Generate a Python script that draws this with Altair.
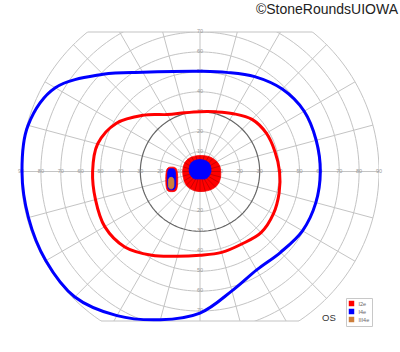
import altair as alt
import numpy as np
import pandas as pd

# ---------------- data ----------------
meridians = list(range(0, 360, 15))
# I4e isopter (blue) eccentricity in degrees at each meridian
i4e_ecc = [60.5, 60.5, 60.5, 58.5, 55.0, 51.5, 50.3, 52.0, 57.5, 69.0, 84.0, 89.5,
           89.5, 89.3, 89.5, 89.0, 83.5, 77.0, 71.0, 62.0, 57.0, 57.3, 59.5, 60.3]
# I2e isopter (red)
i2e_ecc = [40.0, 39.0, 38.5, 37.0, 33.5, 31.0, 30.0, 30.5, 33.0, 40.0, 48.5, 53.3,
           54.0, 54.4, 55.3, 53.5, 48.5, 44.0, 42.0, 42.0, 42.0, 43.4, 42.6, 41.2]
# central red (I2e) filled area
c_red_ecc = [10.4, 10.3, 9.8, 9.2, 8.7, 8.2, 8.0, 8.1, 8.4, 8.7, 8.8, 8.7,
             8.7, 8.8, 9.2, 9.7, 9.9, 10.0, 10.0, 10.2, 10.6, 11.0, 11.0, 10.7]
# central blue (I4e) filled area, every 45 degrees
c_blue_mer = [0, 45, 90, 135, 180, 225, 270, 315]
c_blue_ecc = [5.5, 6.2, 6.0, 6.2, 5.4, 4.8, 3.7, 4.8]
# blind spot areas (x, y in degrees)
bs_red_x = [-14.2, -11.8, -11.2, -11.8, -14.2, -16.6, -17.2, -16.6]
bs_red_y = [2.2, 1.2, -4.0, -9.1, -10.1, -9.1, -4.0, 1.2]
bs_blue_x = [-14.3, -12.6, -12.2, -12.6, -14.3, -16.0, -16.4, -16.0]
bs_blue_y = [1.4, 0.6, -4.0, -8.4, -9.2, -8.4, -4.0, 0.6]
bs_or_x = [-14.5, -13.3, -13.1, -13.3, -14.5, -15.7, -15.9, -15.7]
bs_or_y = [-2.9, -3.6, -5.8, -8.0, -8.7, -8.0, -5.8, -3.6]

iso_names = ["I2e", "I4e", "III4e"]
iso_colors = ["#ff0000", "#0000ff", "#cd7f3c"]

rings = [10, 20, 30, 40, 50, 60, 70, 80, 90]
h_labels = [10, 20, 30, 40, 50, 60, 70, 80, 90]
v_labels = [10, 20, 30, 40, 50, 60, 70]
top_limit = 70
bottom_limit = -75
outer = 90

XS = alt.Scale(domain=[-90, 90], nice=False, zero=False)
YS = alt.Scale(domain=[bottom_limit, top_limit], nice=False, zero=False)


def polar_df(mer, ecc, name="s"):
    return pd.DataFrame({"ang": mer, "ecc": ecc, "idx": range(len(mer)), "name": name})


def enc(ch):
    return ch.encode(
        x=alt.X("x:Q", scale=XS, axis=None),
        y=alt.Y("y:Q", scale=YS, axis=None),
        order=alt.Order("idx:Q"),
    )


def polar_chart(df):
    return alt.Chart(df).transform_calculate(
        x="datum.ecc * cos(datum.ang * PI / 180)",
        y="datum.ecc * sin(datum.ang * PI / 180)",
    )


# ---------------- grid ----------------
angs = np.arange(0, 361, 2)
circ_rows = []
for r in rings:
    for i, a in enumerate(angs):
        circ_rows.append({"r": r, "idx": i, "ang": float(a), "ecc": r,
                          "dark": "d" if r == 30 else "l"})
circ_df = pd.DataFrame(circ_rows)
circles_light = enc(polar_chart(circ_df[circ_df.dark == "l"]).mark_line(
    clip=True, color="#c4c4c4", strokeWidth=1)).encode(detail="r:N")
circle_dark = enc(polar_chart(circ_df[circ_df.dark == "d"]).mark_line(
    clip=True, color="#666666", strokeWidth=1.2))

spoke_rows = []
for a in meridians:
    spoke_rows.append({"sp": a, "ang": a, "ecc": 0, "idx": 0})
    spoke_rows.append({"sp": a, "ang": a, "ecc": outer, "idx": 1})
spokes = enc(polar_chart(pd.DataFrame(spoke_rows)).mark_line(
    clip=True, color="#c4c4c4", strokeWidth=1)).encode(detail="sp:N")

hw_top = float(np.sqrt(outer ** 2 - top_limit ** 2))
hw_bot = float(np.sqrt(outer ** 2 - bottom_limit ** 2))
bound_df = pd.DataFrame({
    "x": [-hw_top, hw_top, -hw_bot, hw_bot],
    "y": [top_limit, top_limit, bottom_limit, bottom_limit],
    "b": ["t", "t", "b", "b"], "idx": [0, 1, 0, 1]})
bounds = enc(alt.Chart(bound_df).mark_line(color="#c4c4c4", strokeWidth=1.2)).encode(detail="b:N")

lab_rows = []
for v in h_labels:
    lab_rows.append({"x": v, "y": 0, "t": str(v)})
    lab_rows.append({"x": -v, "y": 0, "t": str(v)})
for v in v_labels:
    lab_rows.append({"x": 0, "y": v, "t": str(v)})
    lab_rows.append({"x": 0, "y": -v, "t": str(v)})
labels = alt.Chart(pd.DataFrame(lab_rows)).mark_text(
    fontSize=5.5, color="#9a9a9a", font="Liberation Sans", baseline="middle", dy=-1
).encode(x=alt.X("x:Q", scale=XS, axis=None), y=alt.Y("y:Q", scale=YS, axis=None), text="t:N")

# ---------------- central filled areas ----------------
c_red = enc(polar_chart(polar_df(meridians, c_red_ecc)).mark_line(
    interpolate="cardinal-closed", fill="#ff0000", stroke="#ff0000", strokeWidth=0.8))
stripe_rows = []
for a, e in zip(meridians, c_red_ecc):
    stripe_rows.append({"sp": a, "ang": a, "ecc": 0, "idx": 0})
    stripe_rows.append({"sp": a, "ang": a, "ecc": e, "idx": 1})
stripes = enc(polar_chart(pd.DataFrame(stripe_rows)).mark_line(
    color="#b40000", strokeWidth=0.7)).encode(detail="sp:N")
c_blue = enc(polar_chart(polar_df(c_blue_mer, c_blue_ecc)).mark_line(
    interpolate="cardinal-closed", fill="#0000ff", stroke="#0000ff", strokeWidth=0.8))


def xy_shape(xs, ys, color):
    df = pd.DataFrame({"x": xs, "y": ys, "idx": range(len(xs))})
    return enc(alt.Chart(df).mark_line(
        interpolate="cardinal-closed", fill=color, stroke=color, strokeWidth=0.8))


bs_red = xy_shape(bs_red_x, bs_red_y, "#ff0000")
bs_blue = xy_shape(bs_blue_x, bs_blue_y, "#0000ff")
bs_or = xy_shape(bs_or_x, bs_or_y, "#cd7f3c")

# ---------------- isopters ----------------
iso_red = enc(polar_chart(polar_df(meridians, i2e_ecc)).mark_line(
    interpolate="cardinal-closed", color="#ff0000", strokeWidth=3))
iso_blue = enc(polar_chart(polar_df(meridians, i4e_ecc)).mark_line(
    interpolate="cardinal-closed", color="#0000ff", strokeWidth=3))

# ---------------- legend (symbols only, marks clipped away) ----------------
leg_df = pd.DataFrame({"iso": iso_names, "x": [500, 500, 500], "y": [500, 500, 500]})
legend_layer = alt.Chart(leg_df).mark_square(clip=True, size=10).encode(
    x=alt.X("x:Q", scale=XS, axis=None),
    y=alt.Y("y:Q", scale=YS, axis=None),
    color=alt.Color("iso:N", scale=alt.Scale(domain=iso_names, range=iso_colors),
                    legend=alt.Legend(title=None, orient="none", legendX=325, legendY=266,
                                      symbolType="square", symbolSize=30, symbolOpacity=1,
                                      symbolStrokeWidth=0,
                                      labelFontSize=5.5, labelColor="#666666",
                                      labelFont="Liberation Sans", labelOffset=4,
                                      padding=2.5, rowPadding=1, strokeColor="#c8c8c8",
                                      fillColor="white")),
)

# ---------------- annotations ----------------
copy_txt = alt.Chart(pd.DataFrame({"t": ["©StoneRoundsUIOWA"]})).mark_text(
    align="right", baseline="alphabetic", fontSize=14, font="Liberation Sans", color="#222222"
).encode(x=alt.value(377), y=alt.value(-18), text="t:N")
os_txt = alt.Chart(pd.DataFrame({"t": ["OS"]})).mark_text(
    align="left", baseline="alphabetic", fontSize=9.5, font="Liberation Sans", color="#333333"
).encode(x=alt.value(301), y=alt.value(289), text="t:N")

chart = alt.layer(
    circles_light, spokes, circle_dark, bounds, labels,
    c_red, stripes, c_blue, bs_red, bs_blue, bs_or,
    iso_red, iso_blue, legend_layer, copy_txt, os_txt,
).properties(
    width=358, height=289, autosize="none",
    padding={"left": 21, "top": 32, "right": 21, "bottom": 31},
    background="white",
).configure_view(strokeWidth=0)

chart.save("out.html", embed_options={"renderer": "svg", "actions": False})
